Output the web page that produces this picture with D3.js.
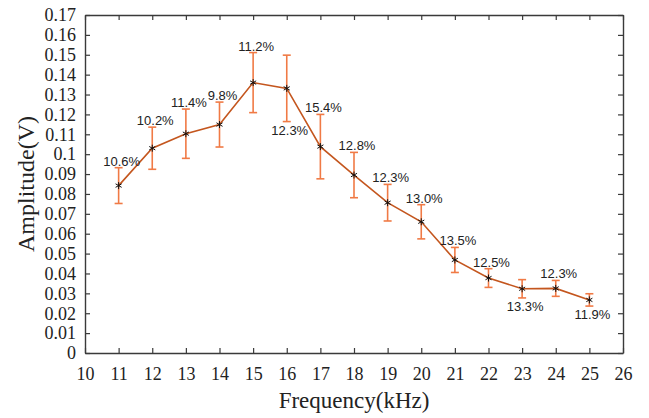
<!DOCTYPE html>
<html>
<head>
<meta charset="utf-8">
<script src="https://cdn.jsdelivr.net/npm/d3@7"></script>
<style>
  body { margin: 0; background: #fff; }
  svg { display: block; }
</style>
</head>
<body>
<div id="chart"></div>
<script>
// data
const freq = [11, 12, 13, 14, 15, 16, 17, 18, 19, 20, 21, 22, 23, 24, 25];
const amplitude = [0.0842, 0.1030, 0.1103, 0.1149, 0.1360, 0.1331, 0.1038, 0.0895,
                   0.0756, 0.0660, 0.0468, 0.0377, 0.0323, 0.0325, 0.0267];
const errors = [0.0090, 0.0106, 0.0124, 0.0113, 0.0151, 0.0167, 0.0162, 0.0114,
                0.0092, 0.0086, 0.0063, 0.0047, 0.0046, 0.0040, 0.0031];
const labels = ["10.6%", "10.2%", "11.4%", "9.8%", "11.2%", "12.3%", "15.4%", "12.8%",
                "12.3%", "13.0%", "13.5%", "12.5%", "13.3%", "12.3%", "11.9%"];
const labelSide = ["up", "up", "up", "up", "up", "down", "up", "up",
                   "up", "up", "up", "up", "down", "up", "down"];
const xTicks = d3.range(10, 27, 1);
const yTicks = d3.range(0, 0.1701, 0.01);

const width = 649, height = 418;
const margin = { top: 15, right: 26, bottom: 65, left: 85 };
const w = width - margin.left - margin.right;
const h = height - margin.top - margin.bottom;

const svg = d3.select("#chart")
  .append("svg")
  .attr("width", width)
  .attr("height", height)
  .append("g")
  .attr("transform", "translate(" + margin.left + "," + margin.top + ")");

const x = d3.scaleLinear().domain([10, 26]).range([0, w]);
const y = d3.scaleLinear().domain([0, 0.17]).range([h, 0]);

const axisColor = "#3a3a3a";
const serif = "'Liberation Serif', 'Times New Roman', serif";

// box axes, ticks pointing inward
function styleAxis(g, hideText) {
  g.select(".domain").attr("stroke", axisColor).attr("stroke-width", 1.4);
  g.selectAll(".tick line").attr("stroke", axisColor).attr("stroke-width", 1.2);
  g.selectAll(".tick text")
    .attr("fill", "#222")
    .style("font-family", serif)
    .style("font-size", "18px");
  if (hideText) g.selectAll(".tick text").remove();
}

svg.append("g")
  .attr("transform", "translate(0," + h + ")")
  .call(d3.axisBottom(x).tickValues(xTicks).tickSize(-5).tickSizeOuter(0).tickPadding(14).tickFormat(d3.format("d")))
  .call(g => styleAxis(g, false));

svg.append("g")
  .call(d3.axisTop(x).tickValues(xTicks).tickSize(-5).tickSizeOuter(0))
  .call(g => styleAxis(g, true));

svg.append("g")
  .call(d3.axisLeft(y).tickValues(yTicks).tickSize(-5).tickSizeOuter(0).tickPadding(9)
    .tickFormat(d => d === 0 ? "0" : d3.format(".2~f")(d)))
  .call(g => styleAxis(g, false));

svg.append("g")
  .attr("transform", "translate(" + w + ",0)")
  .call(d3.axisRight(y).tickValues(yTicks).tickSize(-5).tickSizeOuter(0))
  .call(g => styleAxis(g, true));

// axis titles
svg.append("text")
  .attr("x", w / 2)
  .attr("y", h + 55)
  .attr("text-anchor", "middle")
  .style("font-family", serif)
  .style("font-size", "23px")
  .attr("fill", "#222")
  .text("Frequency(kHz)");

svg.append("text")
  .attr("transform", "translate(" + (-51) + "," + (h / 2) + ") rotate(-90)")
  .attr("text-anchor", "middle")
  .style("font-family", serif)
  .style("font-size", "24px")
  .attr("fill", "#222")
  .text("Amplitude(V)");

const data = freq.map((f, i) => ({
  f: f, v: amplitude[i], e: errors[i], label: labels[i], side: labelSide[i]
}));

// error bars
const errColor = "#f07a45";
const cap = 4;
const eb = svg.selectAll(".errbar").data(data).enter().append("g").attr("class", "errbar")
  .attr("stroke", errColor).attr("stroke-width", 1.6);
eb.append("line")
  .attr("x1", d => x(d.f)).attr("x2", d => x(d.f))
  .attr("y1", d => y(d.v - d.e)).attr("y2", d => y(d.v + d.e));
eb.append("line")
  .attr("x1", d => x(d.f) - cap).attr("x2", d => x(d.f) + cap)
  .attr("y1", d => y(d.v + d.e)).attr("y2", d => y(d.v + d.e));
eb.append("line")
  .attr("x1", d => x(d.f) - cap).attr("x2", d => x(d.f) + cap)
  .attr("y1", d => y(d.v - d.e)).attr("y2", d => y(d.v - d.e));

// mean line
svg.append("path")
  .datum(data)
  .attr("fill", "none")
  .attr("stroke", "#c4561e")
  .attr("stroke-width", 1.6)
  .attr("d", d3.line().x(d => x(d.f)).y(d => y(d.v)));

// asterisk markers
const star = d3.symbol().type(d3.symbolAsterisk).size(34);
svg.selectAll(".mk").data(data).enter().append("path")
  .attr("class", "mk")
  .attr("d", star)
  .attr("transform", d => "translate(" + x(d.f) + "," + y(d.v) + ")")
  .attr("fill", "none")
  .attr("stroke", "#111")
  .attr("stroke-width", 1);

// percentage labels
svg.selectAll(".lbl").data(data).enter().append("text")
  .attr("class", "lbl")
  .attr("x", d => x(d.f) + 3)
  .attr("y", d => d.side === "up" ? y(d.v + d.e) - 2 : y(d.v - d.e) + 13)
  .attr("text-anchor", "middle")
  .style("font-family", "'Liberation Sans', Arial, sans-serif")
  .style("font-size", "13px")
  .attr("fill", "#222")
  .text(d => d.label);
</script>
</body>
</html>
